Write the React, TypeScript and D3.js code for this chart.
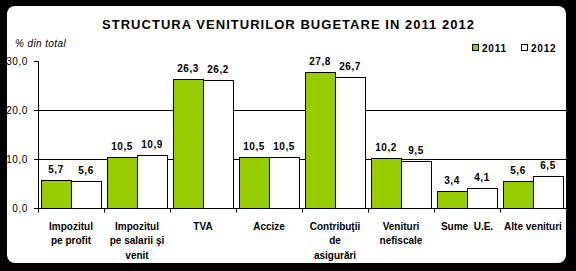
import React from "react";
import * as d3 from "d3";

const categories: string[][] = [
  ["Impozitul", "pe profit"],
  ["Impozitul", "pe salarii şi", "venit"],
  ["TVA"],
  ["Accize"],
  ["Contribuţii", "de", "asigurări"],
  ["Venituri", "nefiscale"],
  ["Sume  U.E."],
  ["Alte venituri"],
];
const series = ["2011", "2012"];
const values2011 = [5.7, 10.5, 26.3, 10.5, 27.8, 10.2, 3.4, 5.6];
const values2012 = [5.6, 10.9, 26.2, 10.5, 26.7, 9.5, 4.1, 6.5];
const yTicks = [0, 10, 20, 30];
const gridValues = [10, 20];
const title = "STRUCTURA VENITURILOR BUGETARE IN 2011 2012";
const yAxisTitle = "% din total";

const W = 576;
const H = 271;
const FONT = "'Liberation Sans', Arial, sans-serif";
const colors: Record<string, string> = { "2011": "#99CC00", "2012": "#FFFFFF" };

const fmt = (v: number) => v.toFixed(1).replace(".", ",");

export default function App() {
  const left = 38;
  const right = 566;
  const x0 = d3
    .scaleBand<number>()
    .domain(categories.map((_, i) => i))
    .range([left, right])
    .padding(0);
  const x1 = d3.scaleBand<string>().domain(series).range([3, x0.bandwidth() - 3]).padding(0);
  const y = d3.scaleLinear().domain([0, 30]).range([208, 61]);
  const data = [values2011, values2012];
  const crisp = (v: number) => Math.round(v) + 0.5;

  return (
    <svg
      width={W}
      height={H}
      style={{ position: "absolute", left: 0, top: 0 }}
      fontFamily={FONT}
    >
      <rect x={0} y={0} width={W} height={H} fill="#000" />
      <rect x={7} y={6} width={559} height={257} rx={8} ry={8} fill="#fff" />

      <text
        x={288}
        y={29}
        textAnchor="middle"
        fontSize={13}
        fontWeight="bold"
        textLength={372}
        lengthAdjust="spacing"
      >
        {title}
      </text>
      <text x={15} y={47} fontSize={10} fontStyle="italic" letterSpacing={0.4}>
        {yAxisTitle}
      </text>

      {/* legend */}
      {series.map((s, i) => (
        <g key={s} transform={`translate(${472.5 + i * 49},44.5)`}>
          <rect width={6} height={6} fill={colors[s]} stroke="#000" strokeWidth={1} />
          <text x={9.5} y={7} fontSize={10} fontWeight="bold" letterSpacing={0.8}>
            {s}
          </text>
        </g>
      ))}

      {/* gridlines */}
      {gridValues.map((g) => (
        <line key={g} x1={left} x2={right} y1={crisp(y(g))} y2={crisp(y(g))} stroke="#000" />
      ))}

      {/* bars */}
      {categories.map((_, i) =>
        series.map((s, j) => {
          const v = data[j][i];
          const bx = (x0(i) as number) + (x1(s) as number);
          const by = y(v);
          return (
            <g key={`${i}-${s}`}>
              <rect
                x={Math.round(bx) + 0.5}
                y={Math.round(by) + 0.5}
                width={Math.round(x1.bandwidth())}
                height={Math.round(y(0)) - Math.round(by)}
                fill={colors[s]}
                stroke="#000"
                strokeWidth={1}
              />
              <text
                x={bx + x1.bandwidth() / 2}
                y={by - 7}
                textAnchor="middle"
                fontSize={10}
                fontWeight="bold"
                letterSpacing={0.5}
              >
                {fmt(v)}
              </text>
            </g>
          );
        })
      )}

      {/* y axis */}
      <line x1={crisp(left)} x2={crisp(left)} y1={y(30)} y2={y(0)} stroke="#000" />
      {yTicks.map((t) => (
        <g key={t}>
          <line x1={34} x2={left} y1={crisp(y(t))} y2={crisp(y(t))} stroke="#000" />
          <text x={28} y={y(t) + 3.5} textAnchor="end" fontSize={10} letterSpacing={0.6}>
            {fmt(t)}
          </text>
        </g>
      ))}

      {/* x axis */}
      <line x1={left} x2={right} y1={crisp(y(0))} y2={crisp(y(0))} stroke="#000" />
      {d3.range(categories.length + 1).map((k) => {
        const tx = crisp(left + k * x0.bandwidth());
        return <line key={k} x1={tx} x2={tx} y1={y(0)} y2={y(0) + 4.5} stroke="#000" />;
      })}
      {categories.map((lines, i) => (
        <text
          key={i}
          x={(x0(i) as number) + x0.bandwidth() / 2}
          y={229.5}
          textAnchor="middle"
          fontSize={10}
          fontWeight="bold"
          style={{ whiteSpace: "pre" }}
        >
          {lines.map((ln, k) => (
            <tspan key={k} x={(x0(i) as number) + x0.bandwidth() / 2} dy={k === 0 ? 0 : 14.5}>
              {ln}
            </tspan>
          ))}
        </text>
      ))}
    </svg>
  );
}
